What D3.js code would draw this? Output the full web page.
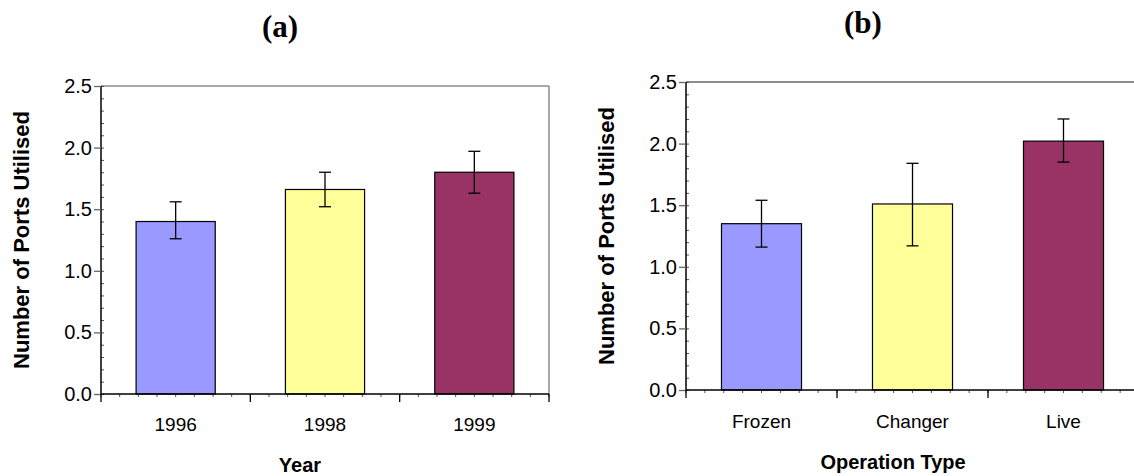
<!DOCTYPE html>
<html>
<head>
<meta charset="utf-8">
<script src="https://cdn.jsdelivr.net/npm/d3@7"></script>
<style>
  body { margin: 0; background: #fff; }
  svg { display: block; }
  .ylab { font-family: "Liberation Sans", Arial, sans-serif; font-weight: bold; font-size: 22px; }
  .xlab { font-family: "Liberation Sans", Arial, sans-serif; font-weight: bold; font-size: 20px; }
  .panel { font-family: "Liberation Serif", "Times New Roman", serif; font-weight: bold; font-size: 31px; }
</style>
</head>
<body>
<script>
    //chart values
    var yearCats = ["1996", "1998", "1999"];
    var yearMeans = [1.40, 1.66, 1.80];
    var yearLow = [1.26, 1.52, 1.63];
    var yearHigh = [1.56, 1.80, 1.97];

    var opCats = ["Frozen", "Changer", "Live"];
    var opMeans = [1.35, 1.51, 2.02];
    var opLow = [1.16, 1.17, 1.85];
    var opHigh = [1.54, 1.84, 2.20];

    var yTicks = [0, 0.5, 1.0, 1.5, 2.0, 2.5];
    var barColors = ["#9999ff", "#ffff99", "#993366"];

    var svg = d3.select("body")
        .append("svg")
        .attr("width", 1134)
        .attr("height", 476);

    //left panel
    drawPanel({
        cats: yearCats, means: yearMeans, low: yearLow, high: yearHigh,
        left: 101, right: 549, top: 86, bottom: 394,
        title: "(a)", titleX: 280, titleY: 37,
        xTitle: "Year", xTitleX: 300, xTitleY: 472, tickLabelY: 37,
        yLabX: 29, rightBorder: true
    });

    //right panel (runs off the edge of the picture)
    drawPanel({
        cats: opCats, means: opMeans, low: opLow, high: opHigh,
        left: 686, right: 1139, top: 82, bottom: 390,
        title: "(b)", titleX: 863, titleY: 33,
        xTitle: "Operation Type", xTitleX: 893, xTitleY: 469, tickLabelY: 38,
        yLabX: 614, rightBorder: false
    });

    function drawPanel(p){
        var x = d3.scaleBand()
            .domain(p.cats)
            .range([p.left, p.right])
            .paddingInner(0.47)
            .paddingOuter(0.235);

        var y = d3.scaleLinear()
            .domain([0, 2.5])
            .range([p.bottom, p.top]);

        var g = svg.append("g");

        //top border (gray) and optional right border
        g.append("line")
            .attr("x1", p.left).attr("x2", p.right)
            .attr("y1", y(2.5)).attr("y2", y(2.5))
            .attr("stroke", "#8c8c8c")
            .attr("stroke-width", p.rightBorder ? 1.5 : 2);
        if (p.rightBorder) {
            g.append("line")
                .attr("x1", p.right).attr("x2", p.right)
                .attr("y1", y(2.5)).attr("y2", y(0))
                .attr("stroke", "#8c8c8c")
                .attr("stroke-width", 1.5);
        }

        //bars
        g.selectAll(".bar")
            .data(p.means)
            .enter()
            .append("rect")
            .attr("class", "bar")
            .attr("x", function(d, i){ return x(p.cats[i]); })
            .attr("width", x.bandwidth())
            .attr("y", function(d){ return y(d); })
            .attr("height", function(d){ return y(0) - y(d); })
            .attr("fill", function(d, i){ return barColors[i]; })
            .attr("stroke", "#000")
            .attr("stroke-width", 1.2);

        //error bars
        var err = g.selectAll(".err")
            .data(p.means)
            .enter()
            .append("g")
            .attr("class", "err")
            .attr("transform", function(d, i){
                return "translate(" + (x(p.cats[i]) + x.bandwidth() / 2) + ",0)";
            })
            .attr("stroke", "#000")
            .attr("stroke-width", 1.3);
        err.append("line")
            .attr("y1", function(d, i){ return y(p.low[i]); })
            .attr("y2", function(d, i){ return y(p.high[i]); });
        err.append("line")
            .attr("x1", -6).attr("x2", 6)
            .attr("y1", function(d, i){ return y(p.high[i]); })
            .attr("y2", function(d, i){ return y(p.high[i]); });
        err.append("line")
            .attr("x1", -6).attr("x2", 6)
            .attr("y1", function(d, i){ return y(p.low[i]); })
            .attr("y2", function(d, i){ return y(p.low[i]); });

        //y minor ticks (inside)
        var minor = d3.range(0, 2.5001, 0.1);
        var yMinor = d3.axisRight(y)
            .tickValues(minor)
            .tickSize(3)
            .tickFormat("");
        g.append("g")
            .attr("transform", "translate(" + p.left + ",0)")
            .call(yMinor)
            .call(function(s){ s.select(".domain").remove(); s.selectAll("line").attr("stroke", "#555"); });

        //y axis
        var yAxis = d3.axisLeft(y)
            .tickValues(yTicks)
            .tickSize(7)
            .tickPadding(2)
            .tickFormat(d3.format(".1f"));
        g.append("g")
            .attr("transform", "translate(" + p.left + ",0)")
            .call(yAxis)
            .call(function(s){
                s.select(".domain").attr("d", "M0," + y(2.5) + "V" + y(0)).attr("stroke-width", 1.5);
                s.selectAll(".tick line").attr("stroke", "#666").attr("stroke-width", 1.3);
                s.selectAll(".tick text")
                    .style("font-family", "'Liberation Sans', Arial, sans-serif")
                    .style("font-size", "20px")
                    .attr("fill", "#000");
            });

        //x minor ticks (below axis)
        var step = x.step() / 8;
        var xMinorVals = d3.range(p.left, p.right + 0.1, step);
        g.selectAll(".xminor")
            .data(xMinorVals)
            .enter()
            .append("line")
            .attr("x1", function(d){ return d; }).attr("x2", function(d){ return d; })
            .attr("y1", y(0)).attr("y2", y(0) + 3)
            .attr("stroke", "#555");

        //x axis: category boundaries as major ticks
        var bounds = d3.range(p.cats.length + 1).map(function(i){ return p.left + i * x.step(); });
        g.append("line")
            .attr("x1", p.left).attr("x2", p.right)
            .attr("y1", y(0)).attr("y2", y(0))
            .attr("stroke", "#000").attr("stroke-width", 1.6);
        g.selectAll(".xmajor")
            .data(bounds)
            .enter()
            .append("line")
            .attr("x1", function(d){ return d; }).attr("x2", function(d){ return d; })
            .attr("y1", y(0)).attr("y2", y(0) + 8)
            .attr("stroke", "#000").attr("stroke-width", 1.3);

        //category labels
        g.selectAll(".cat")
            .data(p.cats)
            .enter()
            .append("text")
            .attr("x", function(d){ return x(d) + x.bandwidth() / 2; })
            .attr("y", y(0) + p.tickLabelY)
            .attr("text-anchor", "middle")
            .style("font-family", "'Liberation Sans', Arial, sans-serif")
            .style("font-size", "19px")
            .text(function(d){ return d; });

        //axis titles
        g.append("text")
            .attr("class", "ylab")
            .attr("transform", "translate(" + p.yLabX + "," + ((p.top + p.bottom) / 2) + ") rotate(-90)")
            .attr("text-anchor", "middle")
            .text("Number of Ports Utilised");

        g.append("text")
            .attr("class", "xlab")
            .attr("x", p.xTitleX)
            .attr("y", p.xTitleY)
            .attr("text-anchor", "middle")
            .text(p.xTitle);

        g.append("text")
            .attr("class", "panel")
            .attr("x", p.titleX)
            .attr("y", p.titleY)
            .attr("text-anchor", "middle")
            .text(p.title);
    }
</script>
</body>
</html>
